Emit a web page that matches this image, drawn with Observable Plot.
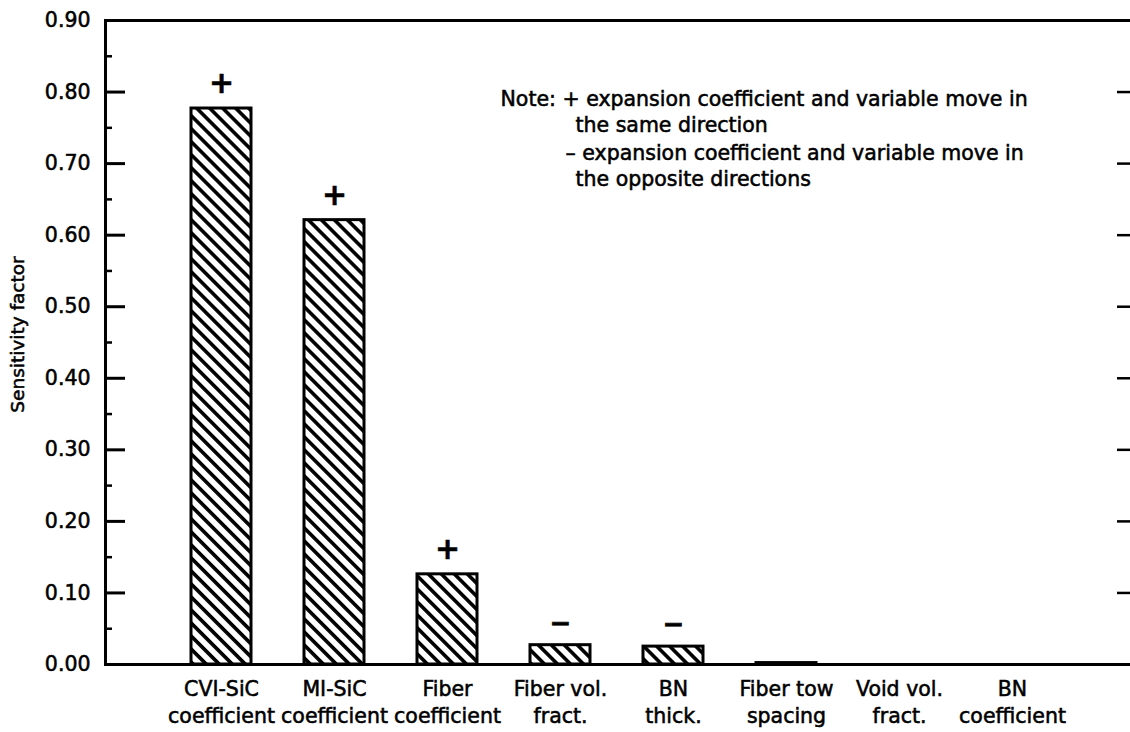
<!DOCTYPE html>
<html>
<head>
<meta charset="utf-8">
<script src="https://cdn.jsdelivr.net/npm/d3@7"></script>
<script src="https://cdn.jsdelivr.net/npm/@observablehq/plot@0.6"></script>
<style>
  html, body { margin: 0; padding: 0; background: white; overflow: hidden; }
  #chart svg text { stroke: black; stroke-width: 0.55px; }
</style>
</head>
<body>
<div id="chart"></div>
<script>
// ---- data ----
const categories = [
  "CVI-SiC\ncoefficient",
  "MI-SiC\ncoefficient",
  "Fiber\ncoefficient",
  "Fiber vol.\nfract.",
  "BN\nthick.",
  "Fiber tow\nspacing",
  "Void vol.\nfract.",
  "BN\ncoefficient"
];
const values = [0.777, 0.621, 0.126, 0.027, 0.025, 0.002, 0, 0];
const signs = ["+", "+", "+", "\u2212", "\u2212", "", "", ""];
const yMajorTicks = [0, 0.1, 0.2, 0.3, 0.4, 0.5, 0.6, 0.7, 0.8, 0.9];
const yMinorTicks = [0.05, 0.15, 0.25, 0.35, 0.45, 0.55, 0.65, 0.75, 0.85];
const yRightTicks = [0.1, 0.2, 0.3, 0.4, 0.5, 0.6, 0.7, 0.8];
const noteLines = [
  "Note: + expansion coefficient and variable move in",
  "the same direction",
  "\u2013 expansion coefficient and variable move in",
  "the opposite directions"
];
const yLabel = "Sensitivity factor";

const data = categories.map((c, i) => ({cat: c, value: values[i], sign: signs[i]}));
const plusData = data.filter(d => d.sign === "+");
const minusData = data.filter(d => d.sign === "\u2212");

const FONT = "DejaVu Sans";
const FS = 20.5;

const chart = Plot.plot({
  width: 1130,
  height: 732,
  marginLeft: 105,
  marginRight: 0,
  marginTop: 20,
  marginBottom: 68,
  style: {fontFamily: FONT, fontSize: FS + "px", color: "black", background: "white"},
  x: {type: "band", domain: categories, paddingInner: 0.47, paddingOuter: 0, insetLeft: 83, insetRight: 86},
  y: {domain: [0, 0.9]},
  marks: [
    Plot.barY(data, {x: "cat", y: "value", fill: "url(#hatch)", stroke: "black", strokeWidth: 3}),
    Plot.ruleY([0], {stroke: "black", strokeWidth: 3}),
    Plot.ruleY([0.9], {stroke: "black", strokeWidth: 3}),
    Plot.frame({anchor: "left", stroke: "black", strokeWidth: 3}),
    Plot.tickY(yMajorTicks, {y: d => d, insetRight: 1005, stroke: "black", strokeWidth: 3}),
    Plot.tickY(yMinorTicks, {y: d => d, insetRight: 1018, stroke: "black", strokeWidth: 2.5}),
    Plot.tickY(yRightTicks, {y: d => d, insetLeft: 1012, stroke: "black", strokeWidth: 2.5}),
    Plot.axisY(yMajorTicks, {tickSize: 0, tickPadding: 15, tickFormat: d3.format(".2f"), label: null, fontSize: FS}),
    Plot.axisX({tickSize: 0, tickPadding: 12, lineHeight: 1.32, label: null, fontSize: FS}),
    Plot.text(plusData, {x: "cat", y: "value", text: "sign", dy: -25, fontSize: 30, fontWeight: "bold"}),
    Plot.text(minusData, {x: "cat", y: "value", text: "sign", dy: -22, fontSize: 26, fontWeight: "bold"}),
    Plot.text([noteLines[0]], {frameAnchor: "top-left", dx: 395, dy: 71, textAnchor: "start", fontSize: FS}),
    Plot.text([noteLines[1]], {frameAnchor: "top-left", dx: 470, dy: 97, textAnchor: "start", fontSize: FS}),
    Plot.text([noteLines[2]], {frameAnchor: "top-left", dx: 460, dy: 125, textAnchor: "start", fontSize: FS}),
    Plot.text([noteLines[3]], {frameAnchor: "top-left", dx: 470, dy: 151, textAnchor: "start", fontSize: FS}),
    Plot.text([yLabel], {frameAnchor: "left", dx: -87, dy: -8, rotate: -90, textAnchor: "middle", fontSize: 18.5})
  ]
});

d3.select(chart).insert("defs", ":first-child").html(
  `<pattern id="hatch" patternUnits="userSpaceOnUse" width="9.2" height="9.2" patternTransform="rotate(45)">
     <rect width="9.2" height="9.2" fill="white"></rect>
     <rect y="0" width="9.2" height="3.6" fill="black"></rect>
   </pattern>`
);

document.getElementById("chart").appendChild(chart);
</script>
</body>
</html>
